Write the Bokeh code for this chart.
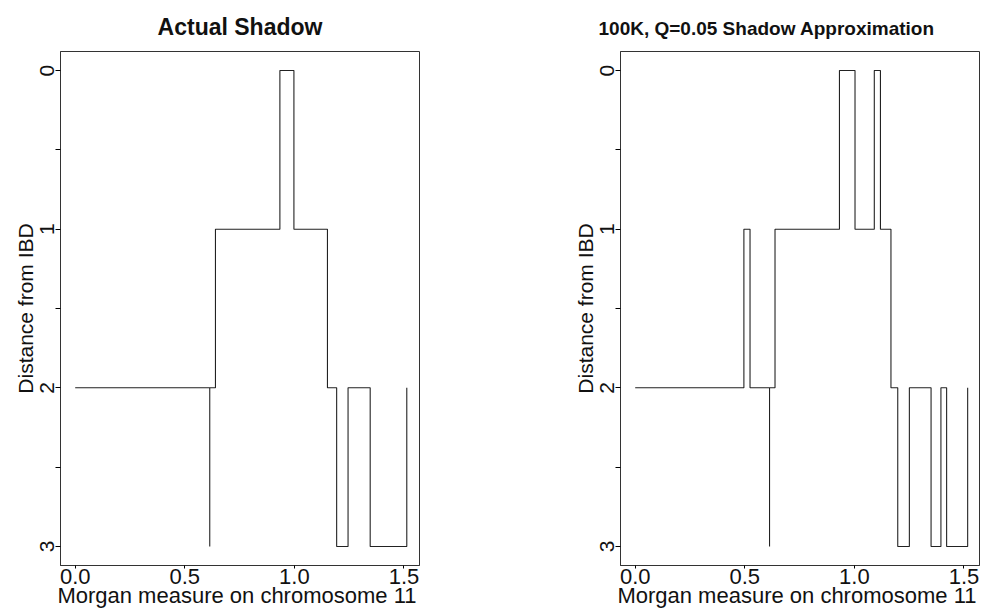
from bokeh.plotting import figure
from bokeh.layouts import row
from bokeh.models import Range1d, FixedTicker
from bokeh.embed import file_html
from bokeh.resources import INLINE

# ---- data ----
actual_x = [0.0, 0.614, 0.614, 0.640, 0.934, 0.998, 1.151, 1.193, 1.245, 1.346, 1.513]
actual_y = [2, 3, 2, 1, 0, 1, 2, 3, 2, 3, 2]

approx_x = [0.0, 0.496, 0.524, 0.613, 0.613, 0.638, 0.932, 1.003, 1.091, 1.119,
            1.167, 1.198, 1.251, 1.350, 1.395, 1.421, 1.517]
approx_y = [2, 1, 2, 3, 2, 1, 0, 1, 0, 1, 2, 3, 2, 3, 2, 3, 2]

x_ticks = [0.0, 0.5, 1.0, 1.5]
x_tick_labels = ["0.0", "0.5", "1.0", "1.5"]
y_ticks = [0, 1, 2, 3]
y_minor_ticks = [0.5, 1.5, 2.5]
y_tick_labels = ["0", "1", "2", "3"]

titles = ["Actual Shadow", "100K, Q=0.05 Shadow Approximation"]
x_label = "Morgan measure  on chromosome 11"
y_label = "Distance from IBD"

FONT = "Liberation Sans"
INK = "#111111"


def panel(xs, ys, title, bl, br, bt, bb, tsize, talign, toffset, tstandoff):
    p = figure(frame_width=359, frame_height=514,
               x_range=Range1d(-0.067, 1.571), y_range=Range1d(3.12, -0.12),
               output_backend="svg", toolbar_location=None,
               min_border_left=bl, min_border_right=br,
               min_border_top=bt, min_border_bottom=bb)
    p.step(xs, ys, mode="after", line_color="#222222", line_width=1.1)
    p.grid.visible = False
    p.outline_line_color = "#333333"
    p.outline_line_width = 1
    p.background_fill_color = "white"
    p.border_fill_color = "white"

    p.title.text = title
    p.title.text_font = FONT
    p.title.text_font_style = "bold"
    p.title.text_font_size = tsize
    p.title.text_color = INK
    p.title.align = talign
    p.title.offset = toffset
    p.title.standoff = tstandoff

    xa = p.xaxis[0]
    xa.ticker = FixedTicker(ticks=x_ticks)
    xa.major_label_overrides = {t: l for t, l in zip(x_ticks, x_tick_labels)}
    xa.major_tick_out = 3
    xa.major_tick_in = 0
    xa.minor_tick_out = 0
    xa.minor_tick_in = 0
    xa.major_label_standoff = 0
    xa.major_label_text_font = FONT
    xa.major_label_text_font_size = "22px"
    xa.major_label_text_color = INK
    xa.axis_label = x_label
    xa.axis_label_text_font = FONT
    xa.axis_label_text_font_size = "22px"
    xa.axis_label_text_font_style = "normal"
    xa.axis_label_text_color = INK
    xa.axis_label_standoff = -4
    xa.axis_line_color = "#333333"

    ya = p.yaxis[0]
    ya.ticker = FixedTicker(ticks=y_ticks, minor_ticks=y_minor_ticks)
    ya.major_label_overrides = {t: l for t, l in zip(y_ticks, y_tick_labels)}
    ya.major_label_orientation = "vertical"
    ya.major_tick_out = 5
    ya.major_tick_in = 0
    ya.minor_tick_out = 5
    ya.minor_tick_in = 0
    ya.major_label_standoff = 1
    ya.major_label_text_font = FONT
    ya.major_label_text_font_size = "21px"
    ya.major_label_text_color = INK
    ya.axis_label = y_label
    ya.axis_label_text_font = FONT
    ya.axis_label_text_font_size = "21px"
    ya.axis_label_text_font_style = "normal"
    ya.axis_label_text_color = INK
    ya.axis_label_standoff = 1
    ya.axis_line_color = "#333333"
    return p


p1 = panel(actual_x, actual_y, titles[0], 60, 81, 51, 47, "23px", "center", 0, 23)
p2 = panel(approx_x, approx_y, titles[1], 120, 28, 49, 49, "19px", "left", -22, 25)

layout = row(p1, p2)
open("out.html", "w").write(file_html(layout, INLINE))
